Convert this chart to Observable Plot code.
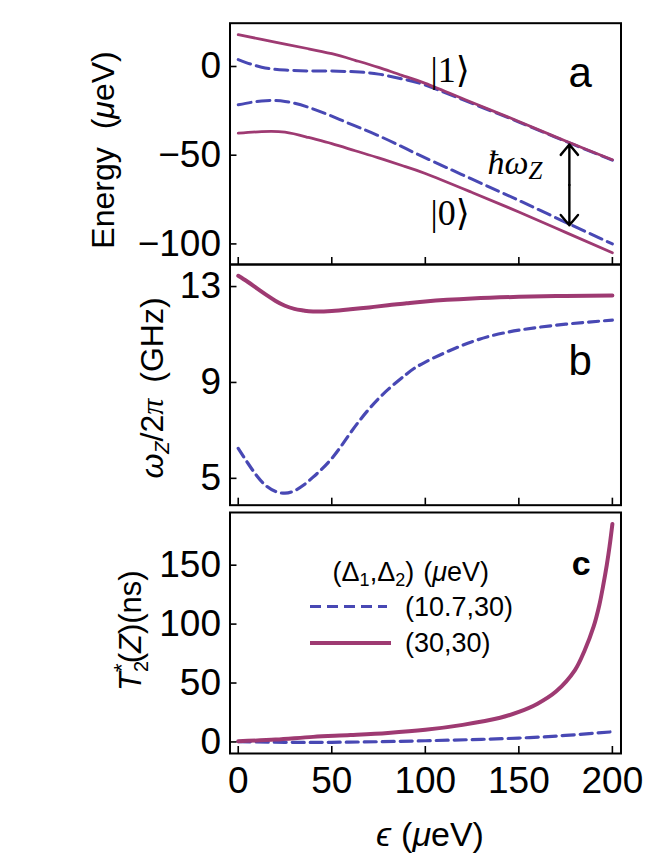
<!DOCTYPE html>
<html><head><meta charset="utf-8">
<script src="https://cdn.jsdelivr.net/npm/d3@7"></script>
<script src="https://cdn.jsdelivr.net/npm/@observablehq/plot@0.6"></script>
<style>
body{margin:0;background:#fff;}
#fig{position:relative;width:664px;height:860px;overflow:hidden;font-family:"Liberation Sans",Arial,sans-serif;}
#fig svg{position:absolute;left:0;overflow:visible;}
</style></head><body><div id="fig"></div>
<script>
// ---------- data ----------
const eps = [0,12.5,25,37.5,50,62.5,75,87.5,100,125,150,175,200];
const e1Solid  = [17.9,15.3,12.6,10,7.2,3.5,-0.5,-5,-9.5,-20.3,-31,-42,-52.6];
const e1Dashed = [3.9,-0.4,-2,-2.5,-2.6,-3,-4.3,-7,-10.5,-20.8,-31.3,-42.2,-52.8];
const e0Dashed = [-21.6,-19.4,-19.7,-23,-28,-33.5,-39,-45.2,-51.5,-63.5,-75.5,-87.8,-100];
const e0Solid  = [-37.6,-36.7,-37.0,-40,-43.5,-47.5,-51.5,-55.8,-60.3,-71,-82,-93.5,-105];

const epsB = [0,5,10,15,20,25,30,35,40,50,60,70,80,90,100,125,150,175,200];
const wSolid  = [13.45,13.2,12.92,12.65,12.4,12.2,12.07,12.0,11.96,11.98,12.05,12.13,12.22,12.3,12.38,12.5,12.57,12.61,12.63];
const wDashed = [6.25,5.65,5.1,4.68,4.45,4.38,4.48,4.72,5.05,5.83,6.9,7.9,8.7,9.35,9.85,10.7,11.18,11.43,11.6];

const epsCSolid = [0,20,40,60,80,100,120,140,150,160,170,180,185,190,193,195,197,198.5,200];
const t2Solid   = [0.5,2,4.3,5.8,7.6,10.3,14.5,20.5,25.5,32.5,43,61,77,98,116,132,150,166,185];
const epsCDashed = [0,25,50,75,100,125,150,175,199];
const t2Dashed   = [0.3,-0.3,-0.3,0.2,1,2,3.3,5.5,8.5];

const xTicks = [0,50,100,150,200];
const yTicksA = [-100,-50,0];
const yTicksB = [5,9,13];
const yTicksC = [0,50,100,150];
const seriesNames = ["(10.7,30)","(30,30)"];
const arrowEps = 177, arrowTop = -44, arrowBottom = -89.5;

// ---------- styling ----------
const W = 664, ML = 229.5, MR = 43.5;
const xDomain = [-4.4, 204.6];
const SOLID = "#9e3a72", DASH = "#4848b4";
const font = "Liberation Sans, Arial, sans-serif";
const serif = "Liberation Serif, DejaVu Serif, serif";
const fig = document.getElementById("fig");

const rows = (xs, ys) => xs.map((x, i) => ({x, y: ys[i]}));

function panel({top, height, mt, mb, yDomain, yTicks, marks, showX}) {
  const p = Plot.plot({
    width: W, height, marginLeft: ML, marginRight: MR, marginTop: mt, marginBottom: mb,
    style: {fontFamily: font, fontSize: "37px", overflow: "visible", background: "transparent", color: "black"},
    x: {domain: xDomain},
    y: {domain: yDomain},
    marks: [
      ...marks,
      Plot.axisY(yTicks, {tickSize: -7, tickPadding: 16, label: null, strokeWidth: 1.6}),
      Plot.axisX(xTicks, {tickSize: -7, tickPadding: 20, label: null, strokeWidth: 1.6,
        ...(showX ? {} : {tickFormat: () => ""})}),
      Plot.frame({stroke: "black", strokeWidth: 2})
    ]
  });
  p.style.top = top + "px";
  fig.appendChild(p);
  return p;
}

function rich(sel, parts) {
  parts.forEach(q => {
    const t = sel.append("tspan").text(q.t);
    for (const k of ["dx","dy","font-size","font-style","font-family","font-weight"]) if (q[k] != null) t.attr(k, q[k]);
  });
  return sel;
}

// ---------- panel a ----------
const pa = panel({
  top: 0, height: 264, mt: 22.7, mb: 0, yDomain: [-111.6, 24.4], yTicks: yTicksA,
  marks: [
    Plot.line(rows(eps, e1Dashed), {x: "x", y: "y", stroke: DASH, strokeWidth: 3, strokeDasharray: "13,6", curve: "natural"}),
    Plot.line(rows(eps, e0Dashed), {x: "x", y: "y", stroke: DASH, strokeWidth: 3, strokeDasharray: "13,6", curve: "natural"}),
    Plot.line(rows(eps, e1Solid), {x: "x", y: "y", stroke: SOLID, strokeWidth: 2.8, curve: "natural"}),
    Plot.line(rows(eps, e0Solid), {x: "x", y: "y", stroke: SOLID, strokeWidth: 2.8, curve: "natural"}),
    Plot.arrow([{x: arrowEps, y1: (arrowTop + arrowBottom) / 2, y2: arrowTop}, {x: arrowEps, y1: (arrowTop + arrowBottom) / 2, y2: arrowBottom}],
      {x1: "x", x2: "x", y1: "y1", y2: "y2", stroke: "black", strokeWidth: 2.4, headLength: 11, headAngle: 80})
  ]
});
{
  const sx = pa.scale("x"), sy = pa.scale("y"), s = d3.select(pa);
  s.append("text").attr("x", sx.apply(113.5)).attr("y", sy.apply(-2.3)).attr("text-anchor", "middle")
    .attr("dominant-baseline", "central").attr("font-family", serif).attr("font-size", 36).text("|1⟩");
  s.append("text").attr("x", sx.apply(113.5)).attr("y", sy.apply(-82.9)).attr("text-anchor", "middle")
    .attr("dominant-baseline", "central").attr("font-family", serif).attr("font-size", 36).text("|0⟩");
  rich(s.append("text").attr("x", sx.apply(133.5)).attr("y", sy.apply(-61)).attr("text-anchor", "start")
    .attr("font-family", serif).attr("font-size", 34).attr("font-style", "italic"),
    [{t: "ħω"}, {t: "Z", "font-size": 25, dy: 5}]);
  s.append("text").attr("x", sx.apply(183)).attr("y", sy.apply(-11.8)).attr("text-anchor", "middle")
    .attr("font-size", 42).text("a");
  rich(s.append("text").attr("transform", "translate(114,150) rotate(-90)").attr("text-anchor", "middle")
    .attr("font-size", 32),
    [{t: "Energy"}, {t: "(", dx: 18}, {t: "μ", "font-style": "italic"}, {t: "eV)"}]);
}

// ---------- panel b ----------
const pb = panel({
  top: 264, height: 240.7, mt: 0, mb: 0, yDomain: [3.88, 13.92], yTicks: yTicksB,
  marks: [
    Plot.line(rows(epsB, wDashed), {x: "x", y: "y", stroke: DASH, strokeWidth: 3.2, strokeDasharray: "10,6", curve: "natural"}),
    Plot.line(rows(epsB, wSolid), {x: "x", y: "y", stroke: SOLID, strokeWidth: 4, curve: "natural"})
  ]
});
{
  const sx = pb.scale("x"), sy = pb.scale("y"), s = d3.select(pb);
  s.append("text").attr("x", sx.apply(183)).attr("y", sy.apply(9.29)).attr("text-anchor", "middle")
    .attr("font-size", 42).text("b");
  rich(s.append("text").attr("transform", "translate(163,124) rotate(-90)").attr("text-anchor", "middle")
    .attr("font-size", 32),
    [{t: "ω", "font-style": "italic"}, {t: "Z", "font-style": "italic", "font-size": 20, dy: 6},
     {t: "/2", dy: -6}, {t: "π", "font-family": serif, "font-style": "italic"}, {t: "(GHz)", dx: 16}]);
}

// ---------- panel c ----------
const pc = panel({
  top: 512.3, height: 347.7, mt: 0, mb: 106.7, yDomain: [-9.8, 194.7], yTicks: yTicksC, showX: true,
  marks: [
    Plot.line(rows(epsCDashed, t2Dashed), {x: "x", y: "y", stroke: DASH, strokeWidth: 3.2, strokeDasharray: "12,6", curve: "natural"}),
    Plot.line(rows(epsCSolid, t2Solid), {x: "x", y: "y", stroke: SOLID, strokeWidth: 4, curve: "catmull-rom"})
  ]
});
{
  const sx = pc.scale("x"), sy = pc.scale("y"), s = d3.select(pc);
  s.append("text").attr("x", sx.apply(183.6)).attr("y", sy.apply(141.5)).attr("text-anchor", "middle")
    .attr("font-size", 34).attr("font-weight", "bold").text("c");
  // legend
  rich(s.append("text").attr("x", 410.8).attr("y", 69.2).attr("text-anchor", "middle").attr("font-size", 27),
    [{t: "(Δ"}, {t: "1", "font-size": 18, dy: 5}, {t: ",Δ", dy: -5}, {t: "2", "font-size": 18, dy: 5},
     {t: ")", dy: -5}, {t: "(", dx: 9}, {t: "μ", "font-style": "italic"}, {t: "eV)"}]);
  s.append("line").attr("x1", 310).attr("x2", 387).attr("y1", 94.4).attr("y2", 94.4)
    .attr("stroke", DASH).attr("stroke-width", 3).attr("stroke-dasharray", "11,6");
  s.append("text").attr("x", 405).attr("y", 94.7).attr("text-anchor", "start").attr("dominant-baseline", "central")
    .attr("font-size", 27).text(seriesNames[0]);
  s.append("line").attr("x1", 310).attr("x2", 391).attr("y1", 131).attr("y2", 131)
    .attr("stroke", SOLID).attr("stroke-width", 4);
  s.append("text").attr("x", 405).attr("y", 131).attr("text-anchor", "start").attr("dominant-baseline", "central")
    .attr("font-size", 27).text(seriesNames[1]);
  // y title
  rich(s.append("text").attr("transform", "translate(141,118.7) rotate(-90)").attr("text-anchor", "middle")
    .attr("font-size", 31),
    [{t: "T", "font-style": "italic"}, {t: "2", "font-size": 20, dy: 7}, {t: "*", "font-size": 22, dx: -11, dy: -19},
     {t: "(", dy: 12}, {t: "Z", "font-style": "italic"}, {t: ")(ns)"}]);
  // x title
  rich(s.append("text").attr("x", 430).attr("y", 334).attr("text-anchor", "middle").attr("font-size", 34),
    [{t: "ϵ", "font-style": "italic"}, {t: "(", dx: 10}, {t: "μ", "font-style": "italic"}, {t: "eV)"}]);
}
</script></body></html>
